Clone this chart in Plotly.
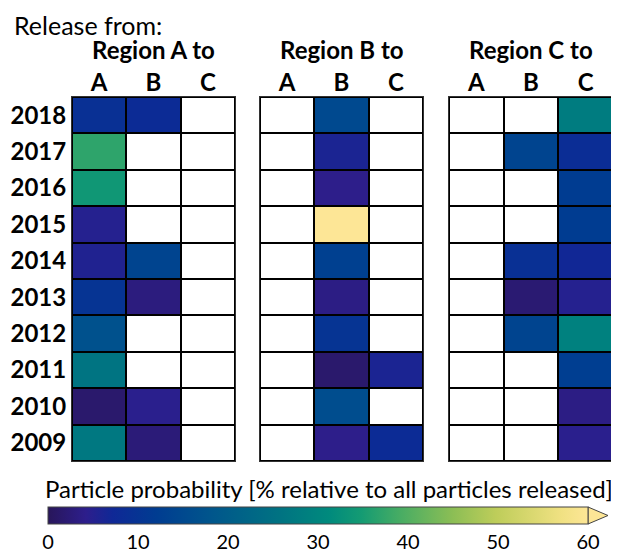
import plotly.graph_objects as go
from plotly.subplots import make_subplots

# rows listed top to bottom as in the figure
years = ['2018', '2017', '2016', '2015', '2014', '2013', '2012', '2011', '2010', '2009']
dest = ['A', 'B', 'C']
regions = ['Region A to', 'Region B to', 'Region C to']

# particle probability [%], None = no particles
a_to_a = [9, 37, 34, 5, 5.5, 10, 17, 26, 1.5, 27]
a_to_b = [8, None, None, None, 14, 3, None, None, 4.5, 2.5]
a_to_c = [None] * 10
b_to_a = [None] * 10
b_to_b = [15, 6, 4, 62, 13, 3.5, 10, 1.5, 16, 4]
b_to_c = [None, None, None, None, None, None, None, 6, None, 8]
c_to_a = [None] * 10
c_to_b = [None, 14, None, None, 9, 2, 14, None, None, None]
c_to_c = [28, 8.5, 12, 12, 7, 5, 29, 12.5, 3.5, 4.5]

panels = [
    [a_to_a, a_to_b, a_to_c],
    [b_to_a, b_to_b, b_to_c],
    [c_to_a, c_to_b, c_to_c],
]

cscale = [
    [0.0, 'rgb(40,22,90)'],
    [0.07, 'rgb(45,30,140)'],
    [0.12, 'rgb(15,40,150)'],
    [0.2, 'rgb(0,60,145)'],
    [0.3, 'rgb(0,85,140)'],
    [0.43, 'rgb(0,115,130)'],
    [0.52, 'rgb(0,138,125)'],
    [0.58, 'rgb(20,155,115)'],
    [0.65, 'rgb(70,172,100)'],
    [0.75, 'rgb(140,190,85)'],
    [0.83, 'rgb(190,205,90)'],
    [0.95, 'rgb(240,225,130)'],
    [1.0, 'rgb(253,230,150)'],
]

W, H = 619, 553
OFF = 8  # page body margin
FONT = 'Lato'


def px(p):
    return (p - OFF) / W


def py(p):
    return 1 - (p - OFF) / H


fig = make_subplots(rows=1, cols=3)

ys = years[::-1]
for i, cols in enumerate(panels):
    z = [[cols[c][r] for c in range(3)] for r in range(len(years))][::-1]
    blank = [[0, 0, 0] for _ in ys]
    # white underlay so empty cells show white with black borders
    fig.add_trace(go.Heatmap(z=blank, x=dest, y=ys, colorscale=[[0, 'white'], [1, 'white']],
                             showscale=False, xgap=2, ygap=2, hoverinfo='skip'), row=1, col=i + 1)
    fig.add_trace(go.Heatmap(z=z, x=dest, y=ys, coloraxis='coloraxis',
                             xgap=2, ygap=2), row=1, col=i + 1)

xdoms = [[px(72), px(235)], [px(260), px(423)], [px(449), px(613)]]
ydom = [py(461), py(97)]
for i in range(3):
    fig.update_xaxes(domain=xdoms[i], side='top', showgrid=False, zeroline=False,
                     showline=True, mirror=True, linecolor='#333', linewidth=1,
                     ticks='', ticklabelstandoff=-5,
                     tickfont=dict(family=FONT, size=24, color='black', weight='bold'),
                     row=1, col=i + 1)
    fig.update_yaxes(domain=ydom, showgrid=False, zeroline=False,
                     showline=True, mirror=True, linecolor='#333', linewidth=1,
                     ticks='', showticklabels=(i == 0),
                     tickfont=dict(family=FONT, size=24, color='black', weight='bold'),
                     row=1, col=i + 1)
    fig.add_annotation(text='<b>' + regions[i] + '</b>', xref='paper', yref='paper',
                       x=(xdoms[i][0] + xdoms[i][1]) / 2, y=py(50),
                       xanchor='center', yanchor='middle',
                       showarrow=False, font=dict(family=FONT, size=24, color='black'))

fig.add_annotation(text='Release from:', xref='paper', yref='paper', x=px(12), y=py(25),
                   xanchor='left', yanchor='middle', showarrow=False,
                   font=dict(family=FONT, size=25, color='black'))
fig.add_annotation(text='Particle probability [% relative to all particles released]',
                   xref='paper', yref='paper', x=px(329), y=py(488),
                   xanchor='center', yanchor='middle',
                   showarrow=False, font=dict(family=FONT, size=24, color='black'))

# extension arrow at the end of the colorbar
fig.add_shape(type='path', xref='paper', yref='paper',
              path=f'M {px(588)} {py(507)} L {px(608)} {py(515.5)} L {px(588)} {py(524)} Z',
              fillcolor='rgb(253,230,150)', line=dict(color='#444', width=1))

fig.update_layout(
    width=W, height=H,
    margin=dict(l=0, r=0, t=0, b=0, autoexpand=False),
    plot_bgcolor='black', paper_bgcolor='white',
    coloraxis=dict(
        colorscale=cscale, cmin=0, cmax=60,
        colorbar=dict(orientation='h', x=px(318), xanchor='center', len=540 / W,
                      thickness=17, y=py(507), yanchor='top', ypad=0, xpad=0,
                      outlinecolor='#444', outlinewidth=1,
                      tickvals=[0, 10, 20, 30, 40, 50, 60], ticks='', ticklen=0,
                      tickfont=dict(family=FONT, size=20, color='black')),
    ),
)

fig.write_html('out.html')
